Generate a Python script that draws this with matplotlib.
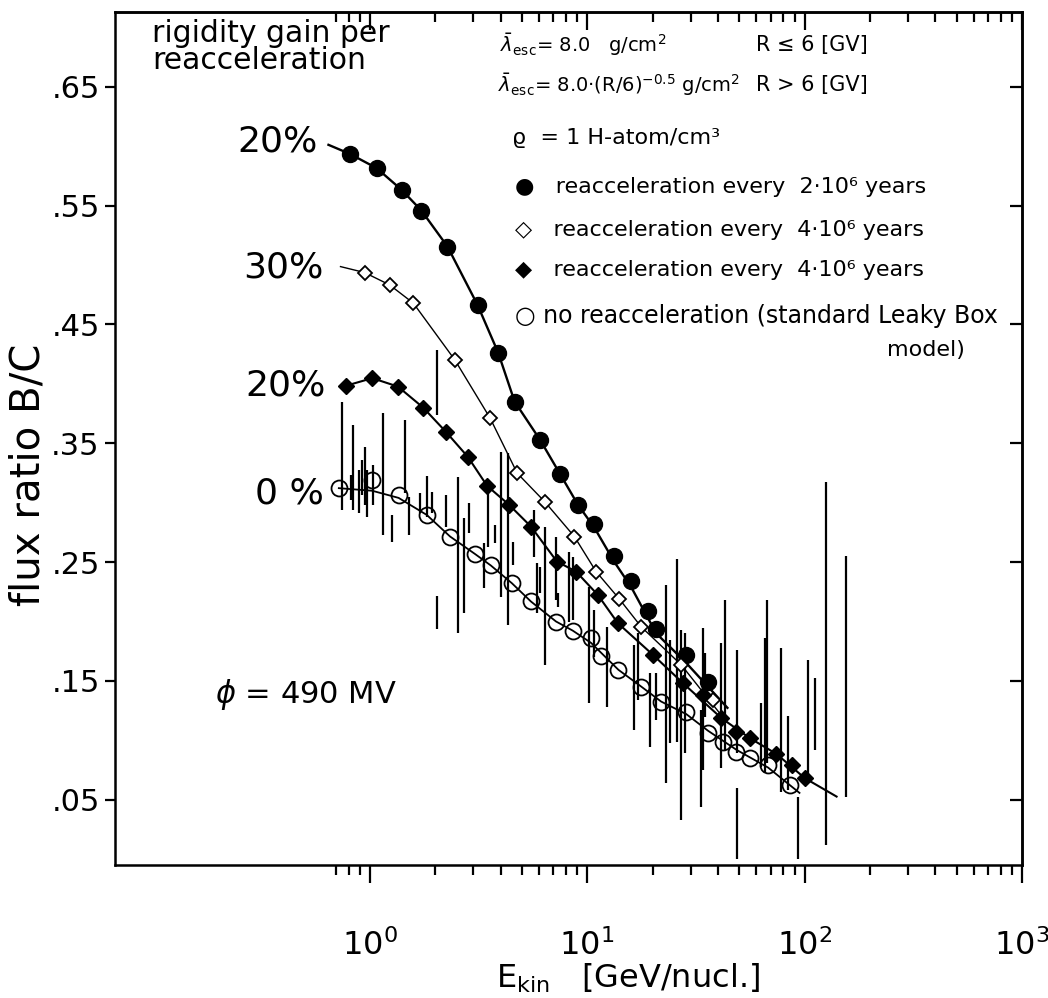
import numpy as np
import matplotlib
matplotlib.use('Agg')
import matplotlib.pyplot as plt
from matplotlib.ticker import FixedLocator, FixedFormatter, NullFormatter

plt.rcParams['font.family'] = ['DejaVu Sans']
plt.rcParams['mathtext.fontset'] = 'dejavusans'

# ---------------- data ----------------
# filled circles: reacceleration every 2e6 yr, 20 % gain
e_fc = [0.811, 1.077, 1.404, 1.730, 2.281, 3.135, 3.901, 4.643, 6.093, 7.53, 9.09,
        10.80, 13.36, 15.95, 19.05, 20.8, 28.6, 36.0]
r_fc = [0.5936, 0.5816, 0.5633, 0.5459, 0.5156, 0.4665, 0.4263, 0.3851, 0.3526, 0.3238,
        0.2981, 0.2822, 0.2552, 0.2344, 0.2092, 0.1935, 0.1719, 0.1494]
curve_fc_e = [0.647, 0.811, 1.077, 1.404, 1.730, 2.281, 3.135, 3.901, 4.643, 6.093, 7.53,
              9.09, 10.80, 13.36, 15.95, 20.8, 28.6, 44.2]
curve_fc_r = [0.6012, 0.5936, 0.5816, 0.5633, 0.5459, 0.5156, 0.4665, 0.4263, 0.3851,
              0.3526, 0.3238, 0.2981, 0.2790, 0.2500, 0.2290, 0.1900, 0.1650, 0.1273]

# open diamonds: reacceleration every 4e6 yr, 30 % gain
e_od = [0.948, 1.236, 1.590, 2.465, 3.584, 4.774, 6.38, 8.74, 11.0, 14.09, 17.74, 27.1, 38.1]
r_od = [0.4937, 0.4833, 0.4679, 0.4202, 0.3711, 0.3248, 0.3009, 0.2715, 0.2420, 0.2188,
        0.1955, 0.1635, 0.1340]
curve_od_e = [0.735, 0.948, 1.236, 1.590, 2.465, 3.584, 4.774, 6.38, 8.74, 11.0, 14.09,
              17.74, 27.1, 43.8]
curve_od_r = [0.4987, 0.4937, 0.4833, 0.4679, 0.4202, 0.3711, 0.3248, 0.3009, 0.2715,
              0.2420, 0.2188, 0.1955, 0.1635, 0.1155]

# filled diamonds: reacceleration every 4e6 yr, 20 % gain
e_fd = [0.775, 1.029, 1.350, 1.764, 2.239, 2.829, 3.472, 4.385, 5.52, 7.27, 8.90, 11.2,
        13.85, 20.09, 27.6, 34.1, 41.5, 48.6, 56.0, 74.3, 87.8, 100.3]
r_fd = [0.3983, 0.4048, 0.3977, 0.3800, 0.3598, 0.3386, 0.3141, 0.2981, 0.2799, 0.2504,
        0.2420, 0.2224, 0.1986, 0.1719, 0.1481, 0.1382, 0.1186, 0.1073, 0.1018, 0.0885,
        0.0793, 0.0681]
curve_fd_e = [0.775, 1.029, 1.350, 1.764, 2.239, 2.829, 3.472, 4.385, 5.52, 7.27,
              8.90, 11.2, 13.85, 20.09, 27.6, 41.5, 56.0, 74.3, 100.3, 140.4]
curve_fd_r = [0.3983, 0.4048, 0.3977, 0.3800, 0.3598, 0.3386, 0.3141, 0.2981,
              0.2799, 0.2504, 0.2420, 0.2224, 0.1986, 0.1719, 0.1481, 0.1186, 0.1018,
              0.0885, 0.0681, 0.0526]

# open circles: no reacceleration (standard Leaky Box)
e_oc = [0.722, 1.029, 1.360, 1.831, 2.345, 3.047, 3.611, 4.511, 5.52, 7.195, 8.59, 10.43,
        11.6, 13.94, 17.74, 21.9, 28.6, 36.0, 42.2, 48.6, 56.0, 68.0, 85.6]
r_oc = [0.3122, 0.3192, 0.3066, 0.2897, 0.2715, 0.2569, 0.2471, 0.2322, 0.2168, 0.1999,
        0.1923, 0.1859, 0.1710, 0.1593, 0.1452, 0.1326, 0.1242, 0.1060, 0.0989, 0.0905,
        0.0849, 0.0793, 0.0625]
curve_oc_e = [0.722, 1.029, 1.360, 1.831, 2.345, 3.047, 3.611, 4.511, 5.52, 7.195,
              8.59, 10.43, 13.94, 17.74, 21.9, 28.6, 36.0, 48.6, 68.0, 94.8]
curve_oc_r = [0.3122, 0.3100, 0.3040, 0.2897, 0.2715, 0.2569, 0.2471, 0.2322,
              0.2168, 0.2000, 0.1923, 0.1820, 0.1593, 0.1452, 0.1326, 0.1220, 0.1080,
              0.0920, 0.0770, 0.0557]

# measured B/C ratios (error bars only)
bar_e = [0.748, 0.841, 0.893, 0.948, 0.976, 0.818, 0.920, 1.040, 1.148, 1.272, 1.450,
         1.517, 1.705, 1.831, 1.945, 2.036, 2.036, 2.239, 2.552, 2.720, 2.868, 3.363,
         3.509, 3.767, 4.015, 4.339, 4.546, 5.716, 5.884, 6.093, 6.406, 7.195, 7.352,
         8.285, 8.59, 10.25, 10.80, 12.37, 16.52, 17.13, 19.37, 20.80, 22.95, 23.95,
         25.99, 26.91, 28.08, 33.28, 34.14, 34.98, 41.15, 43.25, 49.12, 49.12, 62.89,
         65.62, 67.5, 78.34, 84.1, 92.85, 104.0, 111.6, 125.0, 155.0]
bar_hi = [0.3851, 0.3655, 0.3276, 0.3472, 0.3276, 0.3234, 0.3360, 0.3318, 0.3758, 0.2897,
          0.3697, 0.3051, 0.3085, 0.3226, 0.3093, 0.4286, 0.2215, 0.3066, 0.3215, 0.2872,
          0.2998, 0.2659, 0.3083, 0.2813, 0.3430, 0.3417, 0.2673, 0.2939, 0.2491, 0.2462,
          0.2799, 0.2715, 0.2238, 0.2588, 0.2546, 0.2294, 0.2098, 0.1957, 0.1803, 0.1901,
          0.1565, 0.1565, 0.2308, 0.1845, 0.2524, 0.1929, 0.1901, 0.1256, 0.1944, 0.1733,
          0.1817, 0.2182, 0.0597, 0.1761, 0.1312, 0.1859, 0.2182, 0.1775, 0.1200, 0.0526,
          0.1677, 0.1523, 0.3178, 0.2552]
bar_lo = [0.2939, 0.2939, 0.2915, 0.2981, 0.2883, 0.3023, 0.3066, 0.2981, 0.2729, 0.2673,
          0.3082, 0.2729, 0.2914, 0.2883, 0.2912, 0.3739, 0.1935, 0.2799, 0.1902, 0.2072,
          0.2746, 0.2280, 0.2630, 0.2659, 0.2210, 0.1971, 0.2476, 0.2546, 0.2070, 0.2238,
          0.1635, 0.2182, 0.2125, 0.1999, 0.2013, 0.1312, 0.1705, 0.1284, 0.1087, 0.1340,
          0.0947, 0.1172, 0.0639, 0.0976, 0.0989, 0.0330, 0.0891, 0.0442, 0.0751, 0.1199,
          0.0765, 0.0919, 0.0000, 0.0891, 0.0779, 0.0723, 0.0807, 0.0568, 0.0583, 0.0000,
          0.0694, 0.0919, 0.0119, 0.0526]

xticks_major = [1, 10, 100, 1000]
xtick_labels = [r'$\mathregular{10^0}$', r'$\mathregular{10^1}$',
                r'$\mathregular{10^2}$', r'$\mathregular{10^3}$']
xticks_minor = [0.7, 0.8, 0.9] + [m * d for d in (1, 10, 100) for m in range(2, 10)]
yticks = [0.05, 0.15, 0.25, 0.35, 0.45, 0.55, 0.65]
ytick_labels = ['.05', '.15', '.25', '.35', '.45', '.55', '.65']

# ---------------- figure ----------------
W, H = 1048, 998
fig = plt.figure(figsize=(W / 100, H / 100), dpi=100)
ax = fig.add_axes([115 / W, 1 - 865 / H, (1022 - 115) / W, (865 - 12) / H])
ax.set_xscale('log')
ax.set_xlim(0.0675, 1000)
ax.set_ylim(-0.005, 0.713)

for s in ax.spines.values():
    s.set_linewidth(1.8)

k = 'black'
ax.vlines(bar_e, bar_lo, bar_hi, colors=k, lw=1.6, zorder=2)

ax.plot(curve_fc_e, curve_fc_r, '-', color=k, lw=1.7, zorder=3)
ax.plot(curve_od_e, curve_od_r, '-', color=k, lw=1.0, zorder=3)
ax.plot(curve_fd_e, curve_fd_r, '-', color=k, lw=1.5, zorder=3)
ax.plot(curve_oc_e, curve_oc_r, '-', color=k, lw=1.3, zorder=3)

ax.plot(e_fc, r_fc, 'o', color=k, ms=11.5, zorder=4)
ax.plot(e_od, r_od, 'D', mfc='white', mec=k, mew=1.3, ms=7.5, zorder=4)
ax.plot(e_fd, r_fd, 'D', color=k, ms=8.5, zorder=4)
ax.plot(e_oc, r_oc, 'o', mfc='none', mec=k, mew=1.3, ms=11.5, zorder=4)

# bottom / left axes: outward ticks with labels
ax.xaxis.set_major_locator(FixedLocator(xticks_major))
ax.xaxis.set_major_formatter(FixedFormatter(xtick_labels))
ax.xaxis.set_minor_locator(FixedLocator(xticks_minor))
ax.xaxis.set_minor_formatter(NullFormatter())
ax.tick_params(axis='x', which='major', direction='out', length=13, width=1.6,
               labelsize=23, pad=33)
ax.tick_params(axis='x', which='minor', direction='out', length=7, width=1.6)
ax.set_yticks(yticks)
ax.set_yticklabels(ytick_labels)
ax.tick_params(axis='y', which='major', direction='out', length=7, width=1.6,
               labelsize=22, pad=4)

# top / right axes: inward ticks, no labels
top = ax.secondary_xaxis('top')
top.xaxis.set_major_locator(FixedLocator(xticks_major))
top.xaxis.set_minor_locator(FixedLocator(xticks_minor))
top.xaxis.set_major_formatter(NullFormatter())
top.xaxis.set_minor_formatter(NullFormatter())
top.tick_params(axis='x', which='major', direction='in', length=13, width=1.6)
top.tick_params(axis='x', which='minor', direction='in', length=7, width=1.6)
right = ax.secondary_yaxis('right')
right.set_yticks(yticks)
right.yaxis.set_major_formatter(NullFormatter())
right.tick_params(axis='y', direction='in', length=9, width=1.6)
for sec in (top, right):
    for s in sec.spines.values():
        s.set_linewidth(1.8)

ax.set_ylabel('flux ratio B/C', fontsize=29, labelpad=2)
ax.yaxis.label.set_y(0.457)
ax.set_xlabel(r'E$_{\rm kin}$   [GeV/nucl.]', fontsize=23, labelpad=0)
ax.xaxis.label.set_x(0.566)

def ftext(x, y, s, **kw):
    fig.text(x / W, 1 - y / H, s, **kw)

ftext(152, 47, 'rigidity gain per\nreacceleration', fontsize=21.5, va='center',
      linespacing=0.95)
ftext(318, 142, '20%', fontsize=26, ha='right', va='center')
ftext(324, 268, '30%', fontsize=26, ha='right', va='center')
ftext(326, 386, '20%', fontsize=26, ha='right', va='center')
ftext(324, 494, '0 %', fontsize=26, ha='right', va='center')
ftext(215, 695, r'$\phi$ = 490 MV', fontsize=22, va='center')

fs = 16
ftext(500, 45, r'$\bar{\lambda}_{\rm esc}$= 8.0   g/cm$^2$', fontsize=14, va='center')
ftext(868, 45, 'R ≤ 6 [GV]', fontsize=15, va='center', ha='right')
ftext(498, 85, r'$\bar{\lambda}_{\rm esc}$= 8.0·(R/6)$^{-0.5}$ g/cm$^2$', fontsize=14,
      va='center')
ftext(868, 85, 'R > 6 [GV]', fontsize=15, va='center', ha='right')
ftext(512, 138, 'ϱ  = 1 H-atom/cm³', fontsize=fs, va='center')
ftext(515, 187, '●   reacceleration every  2·10⁶ years', fontsize=fs, va='center')
ftext(515, 230, '◇   reacceleration every  4·10⁶ years', fontsize=fs, va='center')
ftext(515, 270, '◆   reacceleration every  4·10⁶ years', fontsize=fs, va='center')
ftext(515, 316, '○ no reacceleration (standard Leaky Box', fontsize=17,
      va='center')
ftext(965, 350, 'model)', fontsize=fs, va='center', ha='right')

fig.savefig('out.png', dpi=100)
